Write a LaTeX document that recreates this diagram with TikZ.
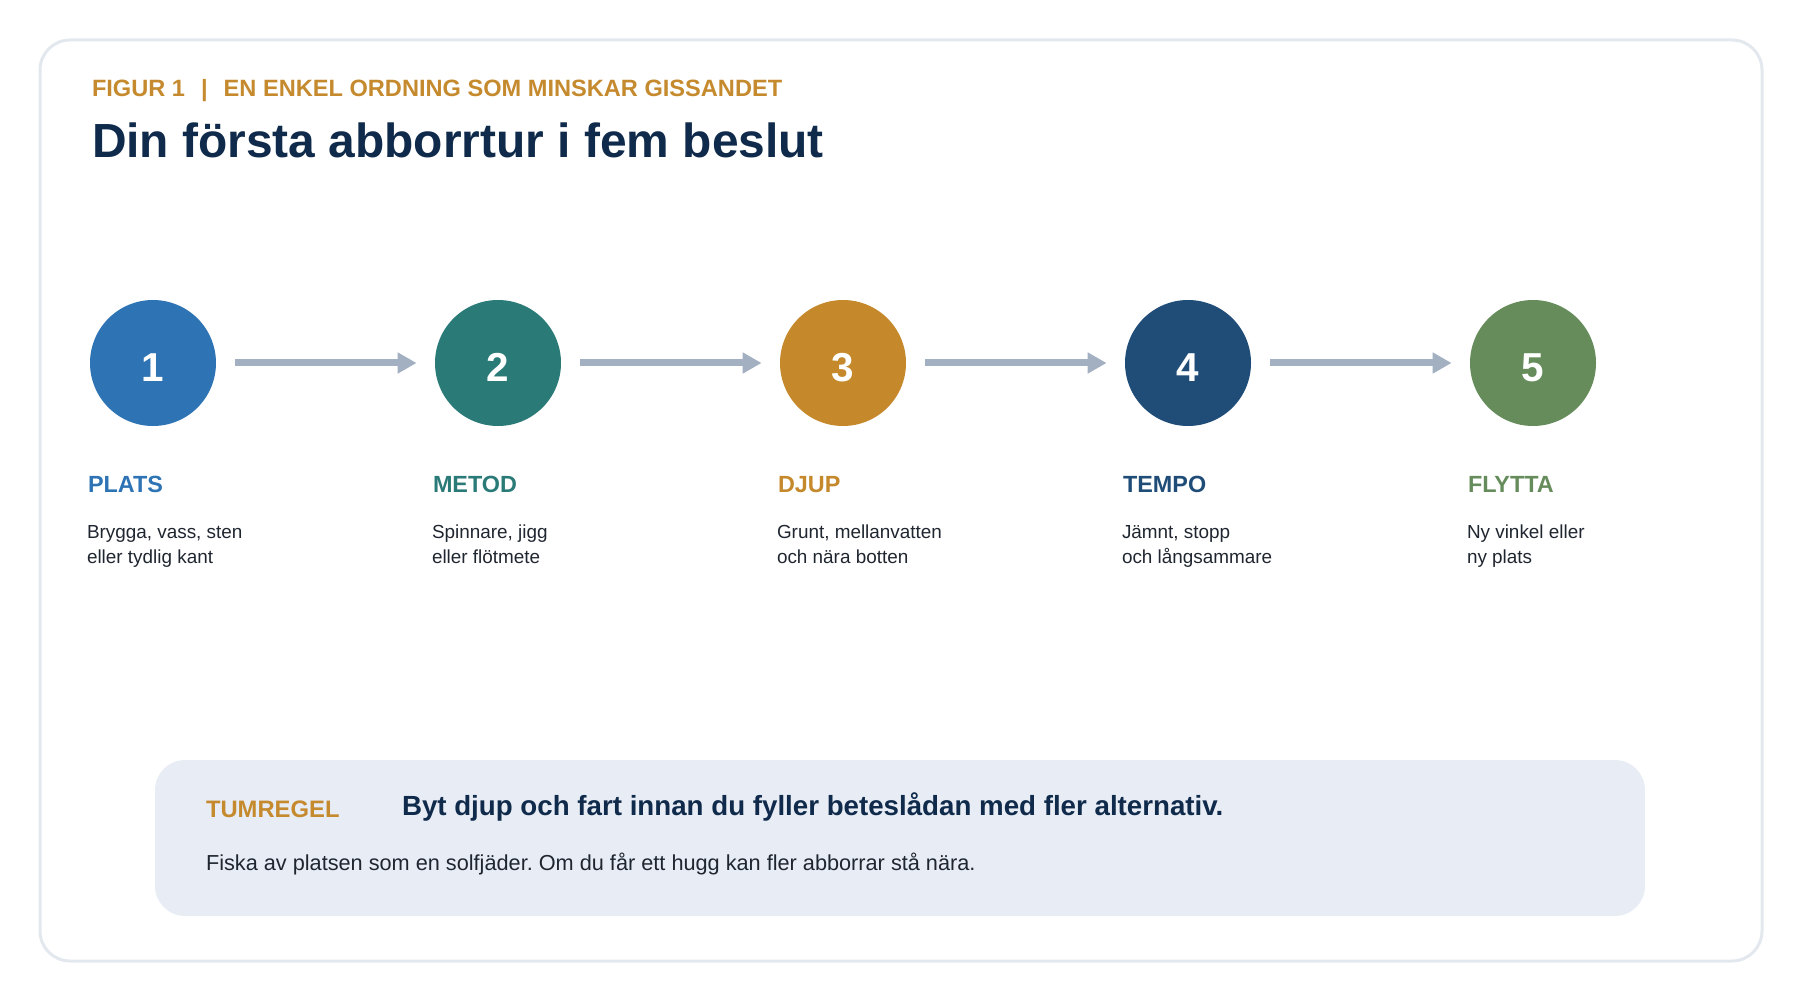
\documentclass[tikz,border=0pt]{standalone}
\usepackage{fontspec}
\setmainfont{Liberation Sans}
\usepackage{xcolor}
\usetikzlibrary{calc, positioning, arrows.meta}
\frenchspacing
\definecolor{figgold}{HTML}{C58A2E}
\definecolor{fignavy}{HTML}{0F2A4A}
\definecolor{figtext}{HTML}{1F2630}
\definecolor{frame}{HTML}{E3E8EF}
\definecolor{tipbox}{HTML}{E8EDF5}
\definecolor{flowgray}{HTML}{A2B0C1}
\definecolor{col1}{HTML}{2E73B4}
\definecolor{col2}{HTML}{2A7A77}
\definecolor{col3}{HTML}{C5892B}
\definecolor{col4}{HTML}{1F4D78}
\definecolor{col5}{HTML}{668C5B}

\begin{document}
\begin{tikzpicture}[x=0.5pt, y=-0.5pt]
        \useasboundingbox (0, 0) rectangle (1800, 1000);
        \draw [frame, line width=1.5pt, rounded corners=15pt] (40, 40) rectangle (1762, 961);

        \tikzstyle{txt} = [anchor=base west, inner sep=0, outer sep=0];

        \node [txt, text=figgold, font=\fontsize{11.8}{13}\selectfont\bfseries] (kicker) at (92, 97)
            {FIGUR 1\hspace{8pt}|\hspace{8pt}EN ENKEL ORDNING SOM MINSKAR GISSANDET};
        \node [txt, text=fignavy, font=\fontsize{23.95}{28}\selectfont\bfseries] (title) at (92, 158)
            {Din första abborrtur i fem beslut};

        \coordinate (N) at (153, 363);
        \foreach \i in {1, ..., 5}{
            \coordinate (N\i) at ($(N) + ({(\i-1)*345}, 0)$);
        }

        \tikzstyle{c} = [circle, inner sep=0, minimum size=63pt, text=white,
            text height=18pt, text depth=0pt, font=\fontsize{20.2}{24}\selectfont\bfseries];
        \tikzstyle{lab} = [txt, font=\fontsize{11.7}{14}\selectfont\bfseries];
        \tikzstyle{desc} = [txt, align=left, text=figtext, font=\fontsize{9.45}{12.5}\selectfont];
        \tikzstyle{flow} = [draw=flowgray, line width=3.5pt, shorten <=9.5pt, shorten >=9pt,
            -{Triangle[length=9.5pt, width=10pt]}];

        \foreach \i/\lab/\la/\lb in {1/PLATS/{Brygga, vass, sten}/eller tydlig kant,
                2/METOD/{Spinnare, jigg}/eller flötmete,
                3/DJUP/{Grunt, mellanvatten}/och nära botten,
                4/TEMPO/{Jämnt, stopp}/och långsammare,
                5/FLYTTA/Ny vinkel eller/ny plats}{
            \node [c, fill=col\i] (S\i) at (N\i) {\i};
            \node [lab, text=col\i] (L\i) at ($(N\i) + (-65, 129)$) {\lab};
            \node [desc] (D\i) at ($(N\i) + (-66, 200)$) {\la\\\lb};
        }

        \foreach \i/\j in {1/2, 2/3, 3/4, 4/5}{
            \draw [flow] (S\i) -- (S\j);
        }

        % rule of thumb
        \fill [tipbox, rounded corners=15pt] (155, 760) rectangle (1645, 916);
        \node [txt, text=figgold, font=\fontsize{11.9}{14}\selectfont\bfseries] (tum) at (206, 817) {TUMREGEL};
        \node [txt, text=fignavy, font=\fontsize{13.85}{16}\selectfont\bfseries] (rule) at (402, 815)
            {Byt djup och fart innan du fyller beteslådan med fler alternativ.};
        \node [txt, text=figtext, font=\fontsize{10.85}{13}\selectfont] (hint) at (206, 870)
            {Fiska av platsen som en solfjäder. Om du får ett hugg kan fler abborrar stå nära.};
    \end{tikzpicture}
\end{document}
